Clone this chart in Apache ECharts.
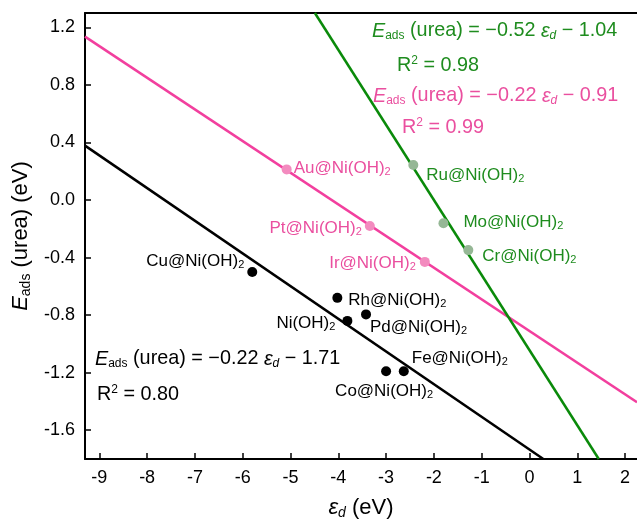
<!DOCTYPE html>
<html><head><meta charset="utf-8">
<script src="https://cdn.jsdelivr.net/npm/echarts@6/dist/echarts.min.js"></script>
<style>html,body{margin:0;padding:0;background:#fff}#c{width:637px;height:519px}</style>
</head><body><div id="c"></div>
<script>
// Data
const blackNames = ['Cu', 'Rh', 'Ni', 'Pd', 'Fe', 'Co'];
const blackPoints = [[-5.80, -0.50], [-4.02, -0.68], [-3.81, -0.84], [-3.42, -0.795], [-2.63, -1.19], [-3.00, -1.19]];
const pinkNames = ['Au', 'Pt', 'Ir'];
const pinkPoints = [[-5.08, 0.213], [-3.34, -0.18], [-2.19, -0.43]];
const greenNames = ['Ru', 'Mo', 'Cr'];
const greenPoints = [[-2.43, 0.243], [-1.80, -0.162], [-1.28, -0.348]];
const blackFit = [[-9.30, 0.378], [0.29, -1.80]];
const pinkFit = [[-9.30, 1.136], [2.25, -1.405]];
const greenFit = [[-4.49, 1.30], [1.45, -1.80]];
const xTicks = [-9, -8, -7, -6, -5, -4, -3, -2, -1, 0, 1, 2];
const yTicks = [-1.6, -1.2, -0.8, -0.4, 0.0, 0.4, 0.8, 1.2];

const FONT = 'Liberation Sans, Arial, sans-serif';
const C_BLACK = '#000000', C_PINK_LINE = '#f23f9e', C_PINK_TXT = '#ea4f9f', C_PINK_DOT = '#f38bbf';
const C_GREEN_LINE = '#0a8a0a', C_GREEN_TXT = '#1e8c1e', C_GREEN_DOT = '#95b795';

function richFor(color, size) {
  const s = Math.round(size * 0.62);
  const base = {color: color, fill: color, fontFamily: FONT};
  return {
    n: Object.assign({}, base, {fontSize: size}),
    sub: Object.assign({}, base, {fontSize: s, padding: [size * 0.45, 0, 0, 0]}),
    sup: Object.assign({}, base, {fontSize: s, padding: [0, 0, size * 0.5, 0]}),
    it: Object.assign({}, base, {fontSize: size, fontStyle: 'italic'}),
    itsub: Object.assign({}, base, {fontSize: s, fontStyle: 'italic', padding: [size * 0.45, 0, 0, 0]})
  };
}
const LBL = 17;
const labelCfg = {
  Cu: {position: 'left', distance: 3, offset: [0, -11]},
  Rh: {position: 'right', distance: 6, offset: [0, 2]},
  Ni: {position: 'left', distance: 7, offset: [0, 2]},
  Pd: {position: 'right', distance: 2, offset: [-3, 13]},
  Fe: {position: 'right', distance: 3, offset: [0, -13]},
  Co: {position: 'bottom', distance: 6, offset: [-2, 0]},
  Au: {position: 'right', distance: 2, offset: [0, -1]},
  Pt: {position: 'left', distance: 3, offset: [0, 2]},
  Ir: {position: 'left', distance: 4, offset: [0, 1]},
  Ru: {position: 'right', distance: 8, offset: [0, 10]},
  Mo: {position: 'right', distance: 15, offset: [0, -1]},
  Cr: {position: 'right', distance: 9, offset: [0, 6]}
};
function mkData(names, pts, color) {
  return pts.map((p, i) => {
    const nm = names[i];
    const txt = nm === 'Ni' ? 'Ni(OH)' : nm + '@Ni(OH)';
    return {
      value: p,
      label: Object.assign({show: true, formatter: '{n|' + txt + '}{sub|2}', rich: richFor(color, LBL)}, labelCfg[nm])
    };
  });
}

function eqText(slope, icpt) {
  return '{it|E}{sub|ads}{n| (urea) = −' + slope + ' }{it|ε}{itsub|d}{n| − ' + icpt + '}';
}
function r2Text(v) { return '{n|R}{sup|2}{n| = ' + v + '}'; }
const EQ = 19.8;

const chart = echarts.init(document.getElementById('c'), null, {renderer: 'canvas'});
chart.setOption({
  animation: false,
  grid: {left: 85, top: 13, right: 0, bottom: 60, containLabel: false, outerBoundsMode: 'none'},
  xAxis: [{
    type: 'value', min: -9.30, max: 2.25,
    axisLine: {show: true, onZero: false, lineStyle: {color: '#000', width: 2}},
    axisTick: {show: true, inside: true, length: 6, lineStyle: {color: '#000', width: 1.5}, customValues: xTicks},
    axisLabel: {show: true, color: '#000', fontSize: 18, fontFamily: FONT, margin: 10, customValues: xTicks, formatter: v => String(v)},
    splitLine: {show: false},
    name: '{it|ε}{itsub|d}{n| (eV)}', nameLocation: 'middle', nameGap: 37,
    nameTextStyle: {rich: richFor('#000', 22)}
  }, {
    type: 'value', position: 'top', min: -9.30, max: 2.25,
    axisLine: {show: true, onZero: false, lineStyle: {color: '#000', width: 2}},
    axisTick: {show: false}, axisLabel: {show: false}, splitLine: {show: false}
  }],
  yAxis: {
    type: 'value', min: -1.80, max: 1.30,
    axisLine: {show: true, onZero: false, lineStyle: {color: '#000', width: 2}},
    axisTick: {show: true, inside: true, length: 6, lineStyle: {color: '#000', width: 1.5}, customValues: yTicks},
    axisLabel: {show: true, color: '#000', fontSize: 18, fontFamily: FONT, margin: 10, customValues: yTicks, formatter: v => v.toFixed(1)},
    splitLine: {show: false},
    name: '{it|E}{sub|ads}{n| (urea) (eV)}', nameLocation: 'middle', nameGap: 50, nameRotate: 90,
    nameTextStyle: {rich: richFor('#000', 22)}
  },
  series: [
    {type: 'line', data: blackFit, symbol: 'none', lineStyle: {color: C_BLACK, width: 2.5}, z: 2},
    {type: 'line', data: pinkFit, symbol: 'none', lineStyle: {color: C_PINK_LINE, width: 2.5}, z: 2},
    {type: 'line', data: greenFit, symbol: 'none', lineStyle: {color: C_GREEN_LINE, width: 2.5}, z: 2},
    {type: 'scatter', data: mkData(blackNames, blackPoints, '#000'), symbolSize: 10, itemStyle: {color: C_BLACK, opacity: 1}, z: 3},
    {type: 'scatter', data: mkData(pinkNames, pinkPoints, C_PINK_TXT), symbolSize: 10, itemStyle: {color: C_PINK_DOT, opacity: 1}, z: 3},
    {type: 'scatter', data: mkData(greenNames, greenPoints, C_GREEN_TXT), symbolSize: 10, itemStyle: {color: C_GREEN_DOT, opacity: 1}, z: 3}
  ],
  graphic: [
    {type: 'text', left: 372, top: 21, style: {text: eqText('0.52', '1.04'), rich: richFor(C_GREEN_TXT, EQ)}},
    {type: 'text', left: 397, top: 55, style: {text: r2Text('0.98'), rich: richFor(C_GREEN_TXT, EQ)}},
    {type: 'text', left: 373, top: 86, style: {text: eqText('0.22', '0.91'), rich: richFor(C_PINK_TXT, EQ)}},
    {type: 'text', left: 402, top: 117, style: {text: r2Text('0.99'), rich: richFor(C_PINK_TXT, EQ)}},
    {type: 'text', left: 95, top: 349, style: {text: eqText('0.22', '1.71'), rich: richFor('#000', EQ)}},
    {type: 'text', left: 97, top: 384, style: {text: r2Text('0.80'), rich: richFor('#000', EQ)}}
  ]
});
</script></body></html>
